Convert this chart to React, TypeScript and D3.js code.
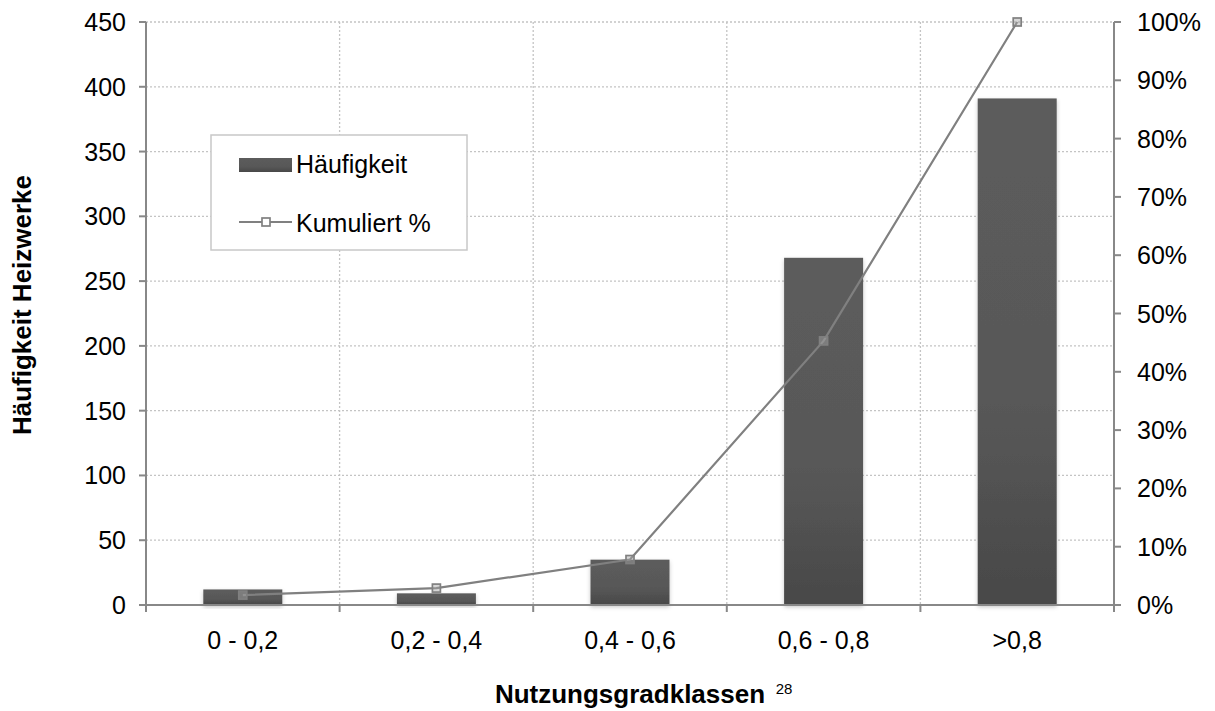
import React from "react";
import * as d3 from "d3";

const categories = ["0 - 0,2", "0,2 - 0,4", "0,4 - 0,6", "0,6 - 0,8", ">0,8"];
const haeufigkeit = [12, 9, 35, 268, 391];
const kumuliert = [1.7, 2.9, 7.8, 45.3, 100];
const leftTicks = [0, 50, 100, 150, 200, 250, 300, 350, 400, 450];
const rightTicks = [0, 10, 20, 30, 40, 50, 60, 70, 80, 90, 100];

const W = 1215, H = 711;
const M = { left: 146, right: 1114, top: 22, bottom: 605 };
const FONT = "'Liberation Sans', Arial, sans-serif";
const AXIS = "#888888";

export default function App() {
  const x = d3.scaleBand<string>().domain(categories).range([M.left, M.right]).paddingInner(0).paddingOuter(0);
  const yL = d3.scaleLinear().domain([0, 450]).range([M.bottom, M.top]);
  const yR = d3.scaleLinear().domain([0, 100]).range([M.bottom, M.top]);
  const bw = 79;
  const line = d3.line<number>()
    .x((_, i) => (x(categories[i]) as number) + x.bandwidth() / 2)
    .y((d) => yR(d));
  const boundaries = categories.map((c) => x(c) as number).concat([M.right]);

  return (
    <svg width={W} height={H} style={{ position: "absolute", left: 0, top: 0 }} fontFamily={FONT}>
      <defs>
        <linearGradient id="barG" x1="0" y1="0" x2="0" y2="1">
          <stop offset="0" stopColor="#5c5c5c" />
          <stop offset="0.6" stopColor="#585858" />
          <stop offset="1" stopColor="#484848" />
        </linearGradient>
        <filter id="shadow" x="-20%" y="-20%" width="140%" height="140%">
          <feDropShadow dx="0" dy="2" stdDeviation="2" floodColor="#000" floodOpacity="0.22" />
        </filter>
      </defs>
      <rect width={W} height={H} fill="#fff" />
      {leftTicks.filter((t) => t > 0).map((t) => (
        <line key={"h" + t} x1={M.left} x2={M.right} y1={yL(t)} y2={yL(t)} stroke="#c4c4c4" strokeWidth={1.3} strokeDasharray="2,2" />
      ))}
      {boundaries.slice(1, -1).map((b, i) => (
        <line key={"v" + i} x1={b} x2={b} y1={M.top} y2={M.bottom} stroke="#c4c4c4" strokeWidth={1.3} strokeDasharray="2,2" />
      ))}
      {haeufigkeit.map((v, i) => {
        const cx = (x(categories[i]) as number) + x.bandwidth() / 2;
        return (
          <rect key={"b" + i} x={cx - bw / 2} y={yL(v)} width={bw} height={yL(0) - yL(v)} fill="url(#barG)" filter="url(#shadow)" />
        );
      })}
      <line x1={M.left} x2={M.left} y1={M.top} y2={M.bottom + 6} stroke={AXIS} strokeWidth={2} />
      <line x1={M.right} x2={M.right} y1={M.top} y2={M.bottom + 6} stroke={AXIS} strokeWidth={2} />
      <line x1={M.left} x2={M.right} y1={M.bottom} y2={M.bottom} stroke={AXIS} strokeWidth={2} />
      {leftTicks.map((t) => (
        <g key={"lt" + t}>
          <line x1={M.left - 7} x2={M.left} y1={yL(t)} y2={yL(t)} stroke={AXIS} strokeWidth={2} />
          <text x={126} y={yL(t)} dy="0.36em" textAnchor="end" fontSize={25} fill="#000">{t}</text>
        </g>
      ))}
      {rightTicks.map((t) => (
        <g key={"rt" + t}>
          <line x1={M.right} x2={M.right + 7} y1={yR(t)} y2={yR(t)} stroke={AXIS} strokeWidth={2} />
          <text x={1137} y={yR(t)} dy="0.36em" textAnchor="start" fontSize={25} fill="#000">{t + "%"}</text>
        </g>
      ))}
      {boundaries.map((b, i) => (
        <line key={"xt" + i} x1={b} x2={b} y1={M.bottom} y2={M.bottom + 7} stroke={AXIS} strokeWidth={2} />
      ))}
      {categories.map((c) => (
        <text key={"xl" + c} x={(x(c) as number) + x.bandwidth() / 2} y={649} textAnchor="middle" fontSize={25} fill="#000">{c}</text>
      ))}
      <path d={line(kumuliert) || ""} fill="none" stroke="#808080" strokeWidth={2.2} />
      {kumuliert.map((v, i) => {
        const cx = (x(categories[i]) as number) + x.bandwidth() / 2;
        return (
          <rect key={"m" + i} x={cx - 4} y={yR(v) - 4} width={8} height={8} fill="#a6a6a6" fillOpacity={0.45} stroke="#808080" strokeWidth={1.7} />
        );
      })}
      <rect x={211} y={135} width={256} height={115} fill="#fff" stroke="#c8c8c8" strokeWidth={1.5} />
      <rect x={239} y={158} width={53} height={14} fill="url(#barG)" />
      <text x={296} y={173} fontSize={25} fill="#000">Häufigkeit</text>
      <line x1={239} x2={292} y1={222} y2={222} stroke="#808080" strokeWidth={2.2} />
      <rect x={262} y={218} width={8} height={8} fill="#fff" stroke="#808080" strokeWidth={1.7} />
      <text x={296} y={232} fontSize={25} fill="#000">Kumuliert %</text>
      <text x={630} y={703} textAnchor="middle" fontSize={26} fontWeight="bold" fill="#000">Nutzungsgradklassen</text>
      <text x={784} y={694} textAnchor="middle" fontSize={15} fill="#000">28</text>
      <text transform={`translate(31,305) rotate(-90)`} textAnchor="middle" fontSize={26} fontWeight="bold" fill="#000">Häufigkeit Heizwerke</text>
    </svg>
  );
}
